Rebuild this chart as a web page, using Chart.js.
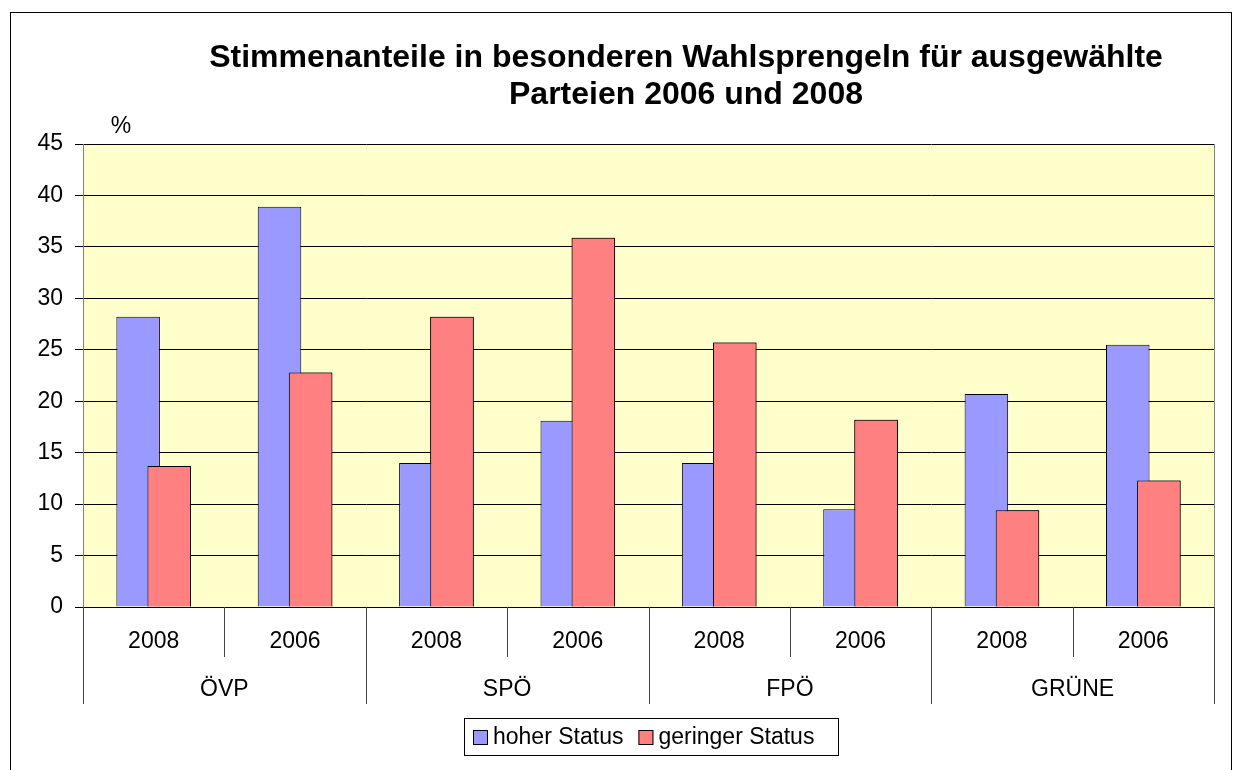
<!DOCTYPE html>
<html>
<head>
<meta charset="utf-8">
<title>Stimmenanteile</title>
<script src="https://cdn.jsdelivr.net/npm/chart.js@4/dist/chart.umd.min.js"></script>
<style>
    html, body { margin: 0; padding: 0; background: #fff; }
    .graph { width: 1233px; height: 770px; position: relative; }
</style>
</head>
<body>
<div class="graph"><canvas id="wahl--chart"></canvas></div>
<script>
"use strict";

const parties = ['ÖVP', 'SPÖ', 'FPÖ', 'GRÜNE'];
const years = ['2008', '2006'];
const categories = ['ÖVP 2008', 'ÖVP 2006', 'SPÖ 2008', 'SPÖ 2006', 'FPÖ 2008', 'FPÖ 2006', 'GRÜNE 2008', 'GRÜNE 2006'];
const hoherStatus = [28.2, 38.9, 14.0, 18.1, 14.0, 9.5, 20.7, 25.5];
const geringerStatus = [13.7, 22.8, 28.2, 35.9, 25.7, 18.2, 9.4, 12.3];
const titleLines = ['Stimmenanteile in besonderen Wahlsprengeln für ausgewählte', 'Parteien 2006 und 2008'];

const FONT = '"Liberation Sans", Arial, sans-serif';

// frame, title, plot background and the two-level category axis
const decorPlugin = {
    id: 'decor',
    beforeDraw(chart) {
        const c = chart.ctx;
        const a = chart.chartArea;
        c.save();
        c.fillStyle = '#FFFFCC';
        c.fillRect(a.left, a.top, a.right - a.left, a.bottom - a.top);
        c.restore();
    },
    afterDraw(chart) {
        const c = chart.ctx;
        const a = chart.chartArea;
        const x = chart.scales.x;
        c.save();

        // outer frame
        c.strokeStyle = '#000';
        c.lineWidth = 1;
        c.strokeRect(10.5, 12.5, 1221, 800);

        // title
        c.fillStyle = '#000';
        c.textAlign = 'center';
        c.textBaseline = 'middle';
        c.font = 'bold 32px ' + FONT;
        c.fillText(titleLines[0], 686, 58);
        c.fillText(titleLines[1], 686, 95);

        // unit label
        c.font = '23px ' + FONT;
        c.fillText('%', 121, 127);

        // right edge of plot
        c.strokeStyle = '#808080';
        c.beginPath();
        c.moveTo(Math.round(a.right) + 0.5, a.top);
        c.lineTo(Math.round(a.right) + 0.5, a.bottom);
        c.stroke();

        // category separators and labels
        const half = (x.getPixelForValue(1) - x.getPixelForValue(0)) / 2;
        c.strokeStyle = '#444';
        for (let i = 0; i <= categories.length; i++) {
            const px = Math.round(x.getPixelForValue(i) - half) + 0.5;
            const long = i % years.length === 0;
            c.beginPath();
            c.moveTo(px, a.bottom);
            c.lineTo(px, a.bottom + (long ? 97 : 50));
            c.stroke();
        }
        c.font = '23px ' + FONT;
        categories.forEach((cat, i) => {
            c.fillText(years[i % years.length], x.getPixelForValue(i), a.bottom + 35);
        });
        parties.forEach((p, j) => {
            const mid = (x.getPixelForValue(j * 2) + x.getPixelForValue(j * 2 + 1)) / 2;
            c.fillText(p, mid, a.bottom + 83);
        });

        // legend
        const lx = 464, ly = 718, lw = 374, lh = 37;
        c.strokeStyle = '#000';
        c.strokeRect(lx + 0.5, ly + 0.5, lw, lh);
        c.textAlign = 'left';
        c.font = '23px ' + FONT;
        let cursor = lx + 9;
        chart.data.datasets.forEach(ds => {
            c.fillStyle = ds.backgroundColor;
            c.fillRect(cursor, ly + 12, 15, 15);
            c.strokeStyle = '#000';
            c.strokeRect(cursor + 0.5, ly + 12.5, 14, 14);
            c.fillStyle = '#000';
            c.fillText(ds.label, cursor + 20, ly + 20);
            cursor += 20 + c.measureText(ds.label).width + 15;
        });
        c.restore();
    },
    afterDatasetsDraw(chart) {
        // red bars sit in front of the blue ones
        chart.getDatasetMeta(1).controller.draw();
    }
};

function renderChart() {
    const ctx = document.getElementById('wahl--chart').getContext('2d');

    new Chart(ctx, {
        type: 'bar',
        data: {
            labels: categories,
            datasets: [{
                label: 'hoher Status',
                data: hoherStatus,
                backgroundColor: '#9999FF',
                borderColor: '#000',
                borderWidth: 1,
                categoryPercentage: 0.44,
                barPercentage: 1.4
            }, {
                label: 'geringer Status',
                data: geringerStatus,
                backgroundColor: '#FF8080',
                borderColor: '#000',
                borderWidth: 1,
                categoryPercentage: 0.44,
                barPercentage: 1.4
            }]
        },
        options: {
            responsive: true,
            maintainAspectRatio: false,
            animation: false,
            layout: {
                padding: { top: 144, left: 0, right: 19, bottom: 163 }
            },
            scales: {
                x: {
                    display: false
                },
                y: {
                    min: 0,
                    max: 45,
                    ticks: {
                        stepSize: 5,
                        padding: 12,
                        color: '#000',
                        font: { family: FONT, size: 23 }
                    },
                    grid: {
                        color: '#000',
                        tickLength: 8,
                        tickColor: '#000'
                    },
                    border: {
                        color: '#808080'
                    },
                    afterFit(scale) {
                        scale.width = 83;
                    }
                }
            },
            plugins: {
                legend: { display: false },
                title: { display: false },
                tooltip: { enabled: false }
            }
        },
        plugins: [decorPlugin]
    });
}

renderChart();
</script>
</body>
</html>
